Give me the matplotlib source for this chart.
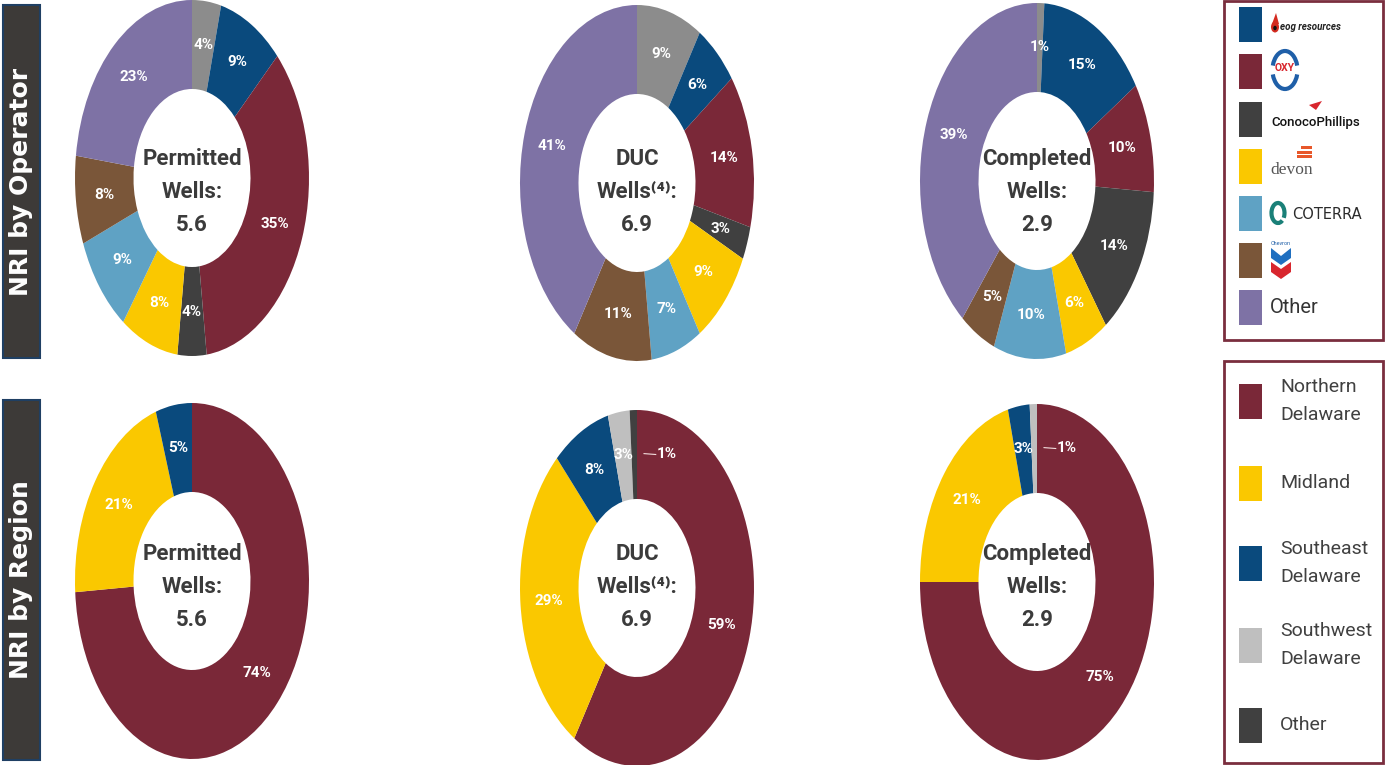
import numpy as np
import matplotlib
matplotlib.use("Agg")
import matplotlib.pyplot as plt
from matplotlib import font_manager
from matplotlib.patches import Rectangle, Ellipse, Arc, Polygon

# ---------------- data ----------------
operator_slices = ["Gray", "EOG Resources", "OXY", "ConocoPhillips", "Devon", "Coterra", "Chevron", "Other"]
permitted_operator = [4, 9, 35, 4, 8, 9, 8, 23]
duc_operator = [9, 6, 14, 3, 9, 7, 11, 41]
completed_operator = [1, 15, 10, 14, 6, 10, 5, 39]

region_names = ["Northern\nDelaware", "Midland", "Southeast\nDelaware", "Southwest\nDelaware", "Other"]
permitted_region = [74, 21, 5, 0, 0]
duc_region = [59, 29, 8, 3, 1]
completed_region = [75, 21, 3, 1, 0]

well_types = ["Permitted\nWells:", "DUC\nWells\u207d\u2074\u207e:", "Completed\nWells:"]
well_totals = [5.6, 6.9, 2.9]
row_titles = ["NRI by Operator", "NRI by Region"]

# ---------------- style ----------------
operator_colors = ["#8c8c8c", "#0a4a7d", "#7a2838", "#404040", "#fac800", "#5fa2c4", "#7a5639", "#7e72a5"]
region_colors = ["#7a2838", "#fac800", "#0a4a7d", "#bfbfbf", "#404040"]

W, H, DPI = 1385, 765, 100
available = {f.name for f in font_manager.fontManager.ttflist}
NARROW = "Liberation Sans Narrow" if "Liberation Sans Narrow" in available else "Roboto"
FAM = [NARROW, "DejaVu Sans"]

fig = plt.figure(figsize=(W / DPI, H / DPI), dpi=DPI)
fig.patch.set_facecolor("white")

# overlay axes in pixel coordinates (y grows downward)
ov = fig.add_axes([0, 0, 1, 1])
ov.set_xlim(0, W)
ov.set_ylim(H, 0)
ov.axis("off")

# row title boxes
for title, (y0, y1) in zip(row_titles, [(5, 358), (400, 760)]):
    ov.add_patch(Rectangle((3, y0), 37, y1 - y0, facecolor="#3d3a38", edgecolor="#1f3f63", lw=1.5))
    ov.text(21.5, (y0 + y1) / 2, title, rotation=90, ha="center", va="center",
            color="white", fontsize=18, fontweight="bold", family="DejaVu Sans")

# donut centres (pixels)
HALF_W, HALF_H = 117, 178
centres = [
    [(192, 178), (637, 183), (1037, 181)],
    [(192, 581), (637, 588), (1037, 582)],
]
caption_y = [192, 587]
rows = [
    ([permitted_operator, duc_operator, completed_operator], operator_colors, False),
    ([permitted_region, duc_region, completed_region], region_colors, True),
]

RING = 0.5
LABEL_R = 0.755

for r, (series, colors, leader_small) in enumerate(rows):
    for c, values in enumerate(series):
        cx, cy = centres[r][c]
        ax = fig.add_axes([(cx - HALF_W) / W, 1 - (cy + HALF_H) / H, 2 * HALF_W / W, 2 * HALF_H / H])
        wedges, _ = ax.pie(values, colors=colors, startangle=90, counterclock=False, radius=1,
                           wedgeprops=dict(width=RING, linewidth=0))
        ax.set_aspect("auto")
        ax.set_xlim(-1, 1)
        ax.set_ylim(-1, 1)
        ax.axis("off")
        for w, v in zip(wedges, values):
            if v <= 0:
                continue
            ang = np.deg2rad((w.theta1 + w.theta2) / 2)
            x, y = LABEL_R * np.cos(ang), LABEL_R * np.sin(ang)
            if leader_small and v <= 1:
                y = LABEL_R
                ax.plot([0.06, 0.16], [y, y - 0.005], color="#f3dede", lw=0.8)
                ax.text(0.255, y, f"{v}%", ha="center", va="center", color="white",
                        fontsize=11, fontweight="bold", family=FAM)
            else:
                ax.text(x, y, f"{v}%", ha="center", va="center", color="white",
                        fontsize=11, fontweight="bold", family=FAM)
        ov.text(cx, caption_y[r], f"{well_types[c]}\n{well_totals[c]}", ha="center", va="center",
                color="#3b3b3b", fontsize=16, fontweight="bold", family=FAM, linespacing=1.62,
                zorder=5)

# legend frames
LEG_EDGE = "#7a2e3e"
ov.add_patch(Rectangle((1224, 1), 159, 339, facecolor="none", edgecolor=LEG_EDGE, lw=2))
ov.add_patch(Rectangle((1224, 361), 159, 402, facecolor="none", edgecolor=LEG_EDGE, lw=2))

# operator legend swatches
op_legend_y = [24, 71, 119, 166, 213, 260, 307]
for col, y in zip(operator_colors[1:], op_legend_y):
    ov.add_patch(Rectangle((1239, y - 17.5), 23, 35, facecolor=col, edgecolor="none"))

# EOG Resources
ov.add_patch(Ellipse((1275, 27), 8, 11, facecolor="#d42a1f", edgecolor="none"))
ov.add_patch(Polygon([[1272, 24], [1276, 13], [1279, 24]], closed=True, facecolor="#d42a1f", edgecolor="none"))
ov.add_patch(Ellipse((1275, 28), 3.5, 4.5, facecolor="#111111", edgecolor="none"))
ov.text(1280, 27, "eog resources", ha="left", va="center", fontsize=7, fontweight="bold",
        fontstyle="italic", color="#222222", family=FAM)

# OXY
ov.add_patch(Arc((1285, 70), 25, 38, theta1=200, theta2=340, color="#1f5fa8", lw=3))
ov.add_patch(Arc((1285, 70), 25, 38, theta1=20, theta2=160, color="#1f5fa8", lw=3))
ov.text(1285, 68, "OXY", ha="center", va="center", fontsize=7.5, fontweight="bold",
        color="#d8262e", family=FAM)

# ConocoPhillips
ov.add_patch(Polygon([[1309, 105], [1322, 101], [1316, 110]], closed=True, facecolor="#d8262e", edgecolor="none"))
ov.text(1271, 122, "ConocoPhillips", ha="left", va="center", fontsize=9.5, fontweight="medium",
        color="#111111", family=FAM)

# Devon
for (x0, y0, w) in [(1301, 146, 11), (1297, 150.5, 15), (1297, 155, 15)]:
    ov.add_patch(Rectangle((x0, y0), w, 3, facecolor="#e8572a", edgecolor="none"))
ov.text(1270, 170, "devon", ha="left", va="center", fontsize=12.5, color="#555555", family="Liberation Serif")

# Coterra
ov.add_patch(Arc((1278, 213), 13, 20, theta1=60, theta2=400, color="#1a8078", lw=3))
ov.text(1292, 214, "COTERRA", ha="left", va="center", fontsize=10.5, color="#2b2b2b", family="DejaVu Sans")

# Chevron
ov.text(1281, 243, "Chevron", ha="center", va="center", fontsize=4, color="#1f5fa8", family=FAM)
ov.add_patch(Polygon([[1271, 248], [1281, 256], [1291, 248], [1291, 258], [1281, 265], [1271, 258]],
                     closed=True, facecolor="#1f6fc0", edgecolor="none"))
ov.add_patch(Polygon([[1271, 262], [1281, 269], [1291, 262], [1291, 272], [1281, 279], [1271, 272]],
                     closed=True, facecolor="#d8262e", edgecolor="none"))

# Other
ov.text(1270, 307, "Other", ha="left", va="center", fontsize=14.5, color="#333333", family=FAM)

# region legend
reg_legend_y = [401, 483, 563, 645, 725]
for col, name, y in zip(region_colors, region_names, reg_legend_y):
    ov.add_patch(Rectangle((1239, y - 17.5), 23, 35, facecolor=col, edgecolor="none"))
    ov.text(1280, y, name, ha="left", va="center", fontsize=14, color="#404040",
            family=FAM, linespacing=1.7)

fig.savefig("out.png", dpi=DPI, facecolor="white")
